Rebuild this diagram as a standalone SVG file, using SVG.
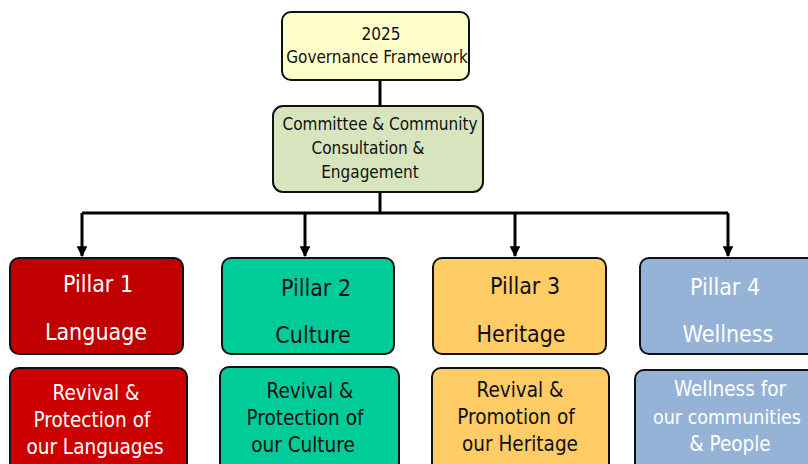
<svg xmlns="http://www.w3.org/2000/svg" width="808" height="464" viewBox="0 0 808 464">
<style>
.box{stroke:#111;stroke-width:2}
.t{font-family:"DejaVu Sans Condensed","DejaVu Sans",sans-serif;text-anchor:middle}
.s{font-size:17px;fill:#111}
.p{font-size:23px}
.d{font-size:20.5px}
.w{fill:#fff}
.k{fill:#111}
.c{fill:none;stroke:#000;stroke-width:3}
</style>
<defs>
<marker id="ah" viewBox="0 0 10 10" refX="9" refY="5" markerWidth="3.6" markerHeight="3.6" orient="auto" markerUnits="strokeWidth">
<path d="M0,0 L10,5 L0,10 z" fill="#000"/>
</marker>
</defs>
<rect width="808" height="464" fill="#fff"/>
<g id="connectors">
<path class="c" d="M380,80 V106"/>
<path class="c" d="M380,192 V213"/>
<path class="c" d="M82,213 H728"/>
<path class="c" d="M82,213 V256" marker-end="url(#ah)"/>
<path class="c" d="M305,213 V256" marker-end="url(#ah)"/>
<path class="c" d="M515,213 V256" marker-end="url(#ah)"/>
<path class="c" d="M728,213 V256" marker-end="url(#ah)"/>
</g>
<g id="framework">
<rect class="box" x="282" y="12" width="187" height="68" rx="9" fill="#FFFFCC"/>
<text class="t s" x="381" y="40">2025</text>
<text class="t s" x="377" y="63">Governance Framework</text>
</g>
<g id="committee">
<rect class="box" x="273" y="106" width="210" height="86" rx="10" fill="#D7E4BD"/>
<text class="t s" x="380" y="130">Committee &amp; Community</text>
<text class="t s" x="368" y="154">Consultation &amp;</text>
<text class="t s" x="370" y="178">Engagement</text>
</g>
<g id="pillar1">
<rect class="box" x="10" y="258" width="173" height="96" rx="9" fill="#C00000"/>
<text class="t p w" x="98" y="292">Pillar 1</text>
<text class="t p w" x="96" y="340">Language</text>
</g>
<g id="pillar1-desc">
<rect class="box" x="10" y="368" width="177" height="104" rx="9" fill="#CC0000"/>
<text class="t d w" x="96" y="400">Revival &amp;</text>
<text class="t d w" x="92" y="427">Protection of</text>
<text class="t d w" x="95" y="454">our Languages</text>
</g>
<g id="pillar2">
<rect class="box" x="222" y="258" width="172" height="96" rx="9" fill="#00CC99"/>
<text class="t p k" x="316" y="296">Pillar 2</text>
<text class="t p k" x="313" y="343">Culture</text>
</g>
<g id="pillar2-desc">
<rect class="box" x="220" y="367" width="179" height="104" rx="9" fill="#00CC99"/>
<text class="t d k" x="310" y="398">Revival &amp;</text>
<text class="t d k" x="305" y="425">Protection of</text>
<text class="t d k" x="303" y="452">our Culture</text>
</g>
<g id="pillar3">
<rect class="box" x="433" y="258" width="173" height="96" rx="9" fill="#FFCC66"/>
<text class="t p k" x="525" y="294">Pillar 3</text>
<text class="t p k" x="521" y="342">Heritage</text>
</g>
<g id="pillar3-desc">
<rect class="box" x="432" y="368" width="177" height="104" rx="9" fill="#FFCC66"/>
<text class="t d k" x="520" y="397">Revival &amp;</text>
<text class="t d k" x="516" y="424">Promotion of</text>
<text class="t d k" x="520" y="451">our Heritage</text>
</g>
<g id="pillar4">
<rect class="box" x="640" y="258" width="180" height="96" rx="9" fill="#95B3D7"/>
<text class="t p w" x="725" y="295">Pillar 4</text>
<text class="t p w" x="728" y="342">Wellness</text>
</g>
<g id="pillar4-desc">
<rect class="box" x="635" y="370" width="185" height="104" rx="9" fill="#95B3D7"/>
<text class="t d w" x="730" y="396">Wellness for</text>
<text class="t d w" x="727" y="424" style="font-size:19.5px">our communities</text>
<text class="t d w" x="730" y="451">&amp; People</text>
</g>
</svg>
